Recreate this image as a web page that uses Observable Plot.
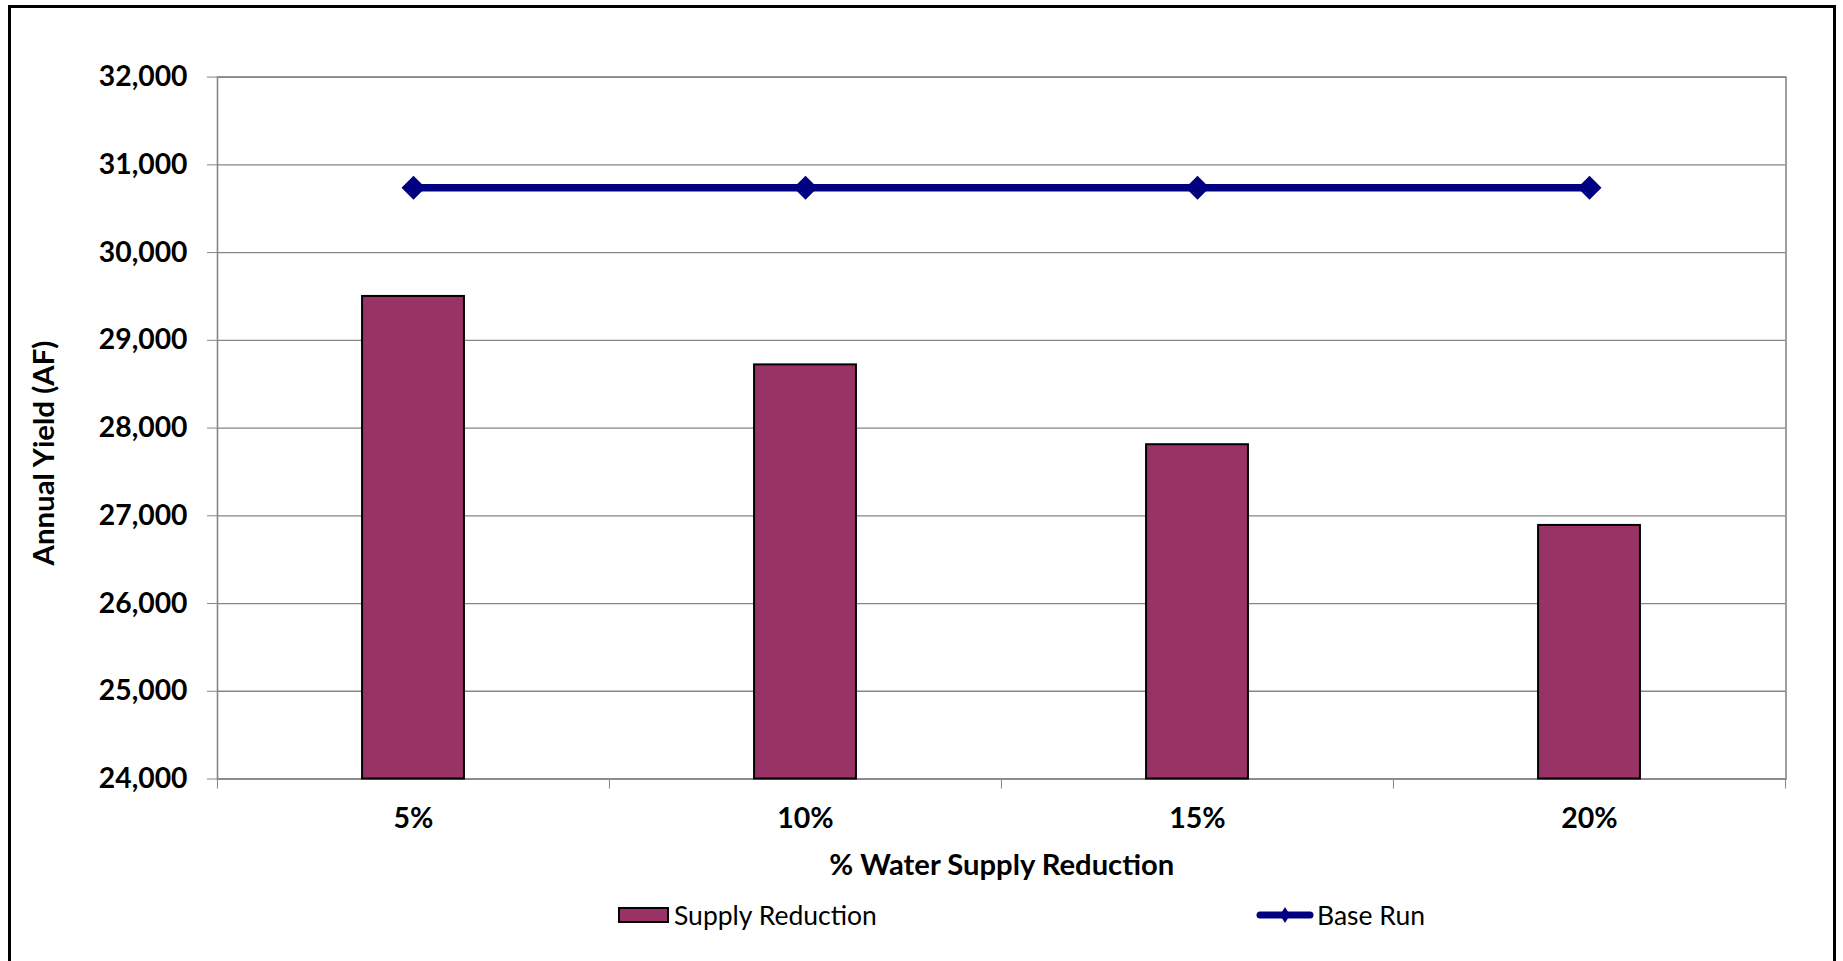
<!DOCTYPE html>
<html><head><meta charset="utf-8">
<script src="https://cdn.jsdelivr.net/npm/d3@7"></script>
<script src="https://cdn.jsdelivr.net/npm/@observablehq/plot@0.6"></script>
<style>
html,body{margin:0;padding:0;background:#fff;overflow:hidden;width:1843px;height:961px;}
#chart{position:absolute;left:0;top:0;}
#border{position:absolute;left:8px;top:5px;width:1828px;height:1000px;box-sizing:border-box;border:3px solid #000;pointer-events:none;}
.legend-item{position:absolute;top:895px;height:40px;display:flex;align-items:center;font-family:Lato, 'Open Sans', sans-serif;font-size:26.5px;color:#000;white-space:nowrap;}
</style></head><body>
<div id="chart"></div>
<div id="legend"></div>
<div id="border"></div>
<script>
const categories = ["5%", "10%", "15%", "20%"];
const supplyReduction = [29500, 28720, 27810, 26890];
const baseRun = [30740, 30740, 30740, 30740];
const yTicks = [24000, 25000, 26000, 27000, 28000, 29000, 30000, 31000, 32000];
const seriesNames = ["Supply Reduction", "Base Run"];
const xTitle = "% Water Supply Reduction";
const yTitle = "Annual Yield (AF)";

const barData = categories.map((c, i) => ({category: c, value: supplyReduction[i]}));
const lineData = categories.map((c, i) => ({category: c, value: baseRun[i]}));

const W = 1843, H = 895, mL = 217, mR = 57.5, mT = 76.6, mB = 116.5;
const band = (W - mL - mR) / categories.length;
const barInset = (band - 102) / 2;
const grid = "#868686";
const font = "Lato, 'Open Sans', sans-serif";
const barColor = "#993366";
const lineColor = "#000080";

const chart = Plot.plot({
  width: W, height: H,
  marginLeft: mL, marginRight: mR, marginTop: mT, marginBottom: mB,
  style: {fontFamily: font, background: "#fff", color: "#000", overflow: "visible"},
  x: {domain: categories, padding: 0, label: null},
  y: {domain: [yTicks[0], yTicks[yTicks.length - 1]], label: null},
  marks: [
    Plot.gridY(yTicks, {stroke: grid, strokeOpacity: 1, strokeWidth: 1.3}),
    Plot.frame({stroke: grid, strokeWidth: 1.6}),
    Plot.axisY(yTicks, {tickSize: 10, tickPadding: 20, tickFormat: d3.format(","), stroke: grid, strokeOpacity: 1, fill: "#000", fontSize: 28.3, fontWeight: "bold", label: null}),
    Plot.axisX(categories, {tickSize: 10, tickFormat: () => "", dx: -band / 2, stroke: grid, strokeOpacity: 1, label: null}),
    Plot.axisX([categories[categories.length - 1]], {tickSize: 10, tickFormat: () => "", dx: band / 2, stroke: grid, strokeOpacity: 1, label: null}),
    Plot.axisX(categories, {tickSize: 0, tickPadding: 29, fill: "#000", fontSize: 28.5, fontWeight: "bold", label: null}),
    Plot.barY(barData, {x: "category", y1: yTicks[0], y2: "value", fill: barColor, stroke: "#000", strokeWidth: 2, insetLeft: barInset, insetRight: barInset}),
    Plot.lineY(lineData, {x: "category", y: "value", stroke: lineColor, strokeWidth: 7.5}),
    Plot.dot(lineData, {x: "category", y: "value", symbol: "diamond2", r: 10.8, fill: lineColor, stroke: "none"}),
    Plot.text([xTitle], {text: d => d, frameAnchor: "bottom", textAnchor: "middle", dy: 96, fontSize: 29.2, fontWeight: "bold", fill: "#000"}),
    Plot.text([yTitle], {text: d => d, frameAnchor: "left", textAnchor: "middle", rotate: -90, dx: -173, dy: 25, fontSize: 29.4, fontWeight: "bold", fill: "#000"})
  ]
});
document.getElementById("chart").appendChild(chart);

// legend (HTML, below the plot)
const legend = document.getElementById("legend");
const item1 = document.createElement("div");
item1.className = "legend-item";
item1.style.left = "618px";
item1.innerHTML = `<span style="display:inline-block;width:51px;height:16px;box-sizing:border-box;background:${barColor};border:2px solid #000;"></span><span style="margin-left:5px">${seriesNames[0]}</span>`;
legend.appendChild(item1);
const item2 = document.createElement("div");
item2.className = "legend-item";
item2.style.left = "1254px";
item2.innerHTML = `<svg width="62" height="24" style="display:block"><line x1="6" y1="12" x2="56" y2="12" stroke="${lineColor}" stroke-width="7" stroke-linecap="round"/><path d="M31,4 L36,12 L31,20 L26,12 Z" fill="${lineColor}"/></svg><span style="margin-left:1px">${seriesNames[1]}</span>`;
legend.appendChild(item2);
</script>
</body></html>
